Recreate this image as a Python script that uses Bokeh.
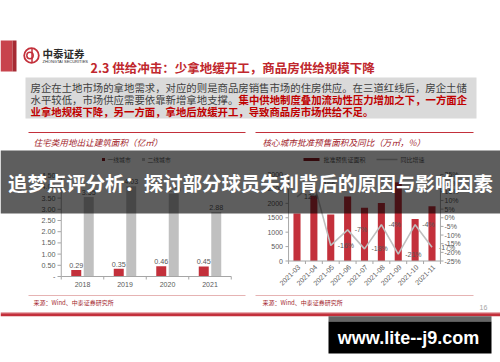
from bokeh.plotting import figure
from bokeh.models import Range1d, ColumnDataSource
from bokeh.transform import dodge
from bokeh.core.properties import value
from bokeh.embed import file_html
from bokeh.resources import INLINE

# ---------------- data ----------------
years = ["2018", "2019", "2020", "2021"]
tier1 = [0.29, 0.35, 0.46, 0.45]
tier2 = [3.55, 4.03, 3.70, 2.88]
left_ticks = [0, 0.5, 1.0, 1.5, 2.0, 2.5, 3.0, 3.5, 4.0, 4.5]
left_tick_labels = ["-", "0.50", "1.00", "1.50", "2.00", "2.50", "3.00", "3.50", "4.00", "4.50"]

months = ["2021-03", "2021-04", "2021-05", "2021-06", "2021-07",
          "2021-08", "2021-09", "2021-10", "2021-11"]
area = [1650, 2260, 1610, 2240, 1850, 2010, 2730, 1460, 1900]
yoy = [12, 20, -16, -7, -18, -4, -21, -4, -17]
area_ticks = [0, 500, 1000, 1500, 2000, 2500, 3000]
area_tick_labels = ["0", "500", "1000", "1500", "2000", "2500", "3000"]
yoy_ticks = [-25, -20, -15, -10, -5, 0, 5, 10, 15, 20, 25]
yoy_tick_labels = ["-25%", "-20%", "-15%", "-10%", "-5%", "0%", "5%", "10%", "15%", "20%", "25%"]

title_text = "2.3 供给冲击：少拿地缓开工，商品房供给规模下降"
body_l1 = "房企在土地市场的拿地需求，对应的则是商品房销售市场的住房供应。在三道红线后，房企土储"
body_l2a = "水平较低，市场供应需要依靠新增拿地支撑。"
body_l2b = "集中供地制度叠加流动性压力增加之下，一方面企"
body_l3 = "业拿地规模下降，另一方面，拿地后放缓开工，导致商品房市场供给不足。"
left_title = "住宅类用地出让建筑面积（亿㎡）"
right_title = "核心城市批准预售面积及同比（万㎡，%）"
legend_left = ["一线城市", "二线城市"]
legend_right = ["批准预售证面积", "同比增速"]
source_text = "来源：Wind、中泰证券研究所"
banner_text = "追梦点评分析：探讨部分球员失利背后的原因与影响因素"
url_text = "www.lite--j9.com"

# ---------------- style ----------------
W, H = 500, 362
RED = "#c3303b"
DARKRED = "#a3262d"
GREY_BAR = "#c0c0c0"
LINE_GREY = "#bfbfbf"
AX = "#595959"
CJK = value("Noto Sans CJK SC")
LAT = value("Liberation Sans")


def xr(v0, px0, v1, px1):
    k = (v1 - v0) / (px1 - px0)
    return Range1d(v0 + (0 - px0) * k, v0 + (W - px0) * k)


def yr(v0, px0, v1, px1):
    k = (v1 - v0) / (px1 - px0)
    return Range1d(v0 + (H - px0) * k, v0 + (0 - px0) * k)


p = figure(width=W, height=H, x_range=Range1d(0, W), y_range=Range1d(H, 0),
           x_axis_type=None, y_axis_type=None, output_backend="svg",
           toolbar_location=None, min_border=0)
p.grid.visible = False
p.outline_line_color = None
p.background_fill_color = "white"
p.border_fill_color = "white"

# ---------------- header ----------------
p.quad(left=[0], right=[12], top=[40], bottom=[71], fill_color="#c8434c", line_alpha=0)
p.quad(left=[12], right=[16], top=[40], bottom=[71], fill_color="#a52a33", line_alpha=0)
p.circle(x=[31], y=[55], radius=7.3, fill_color=None, line_color=RED, line_width=1.8)
p.circle(x=[29.5], y=[55], radius=3.2, fill_color=None, line_color=RED, line_width=1.5)
p.segment(x0=[31.5], y0=[48.5], x1=[31.5], y1=[61.5], line_color=RED, line_width=1.5)
p.text(x=[42], y=[53], text=["中泰证券"], text_font=CJK, text_font_size="10.5px",
       text_font_style="bold", text_color="#2b2b2b", text_baseline="middle")
p.text(x=[42], y=[61], text=["ZHONGTAI SECURITIES"], text_font=LAT, text_font_size="4px",
       text_color="#2b2b2b", text_baseline="middle")
p.text(x=[90], y=[66.5], text=[title_text], text_font=CJK, text_font_size="12.5px",
       text_font_style="bold", text_color="#c0272d", text_baseline="middle")

p.quad(left=[25], right=[476], top=[77], bottom=[118], fill_color="#dadada", line_alpha=0)
p.text(x=[30], y=[87.3], text=[body_l1], text_font=CJK, text_font_size="10.4px",
       text_color="#404040", text_baseline="middle")
p.text(x=[30], y=[99.3], text=[body_l2a], text_font=CJK, text_font_size="10.4px",
       text_color="#404040", text_baseline="middle")
p.text(x=[238], y=[99.3], text=[body_l2b], text_font=CJK, text_font_size="10.4px",
       text_font_style="bold", text_color="#c00000", text_baseline="middle")
p.text(x=[30], y=[111], text=[body_l3], text_font=CJK, text_font_size="10.4px",
       text_font_style="bold", text_color="#c00000", text_baseline="middle")

# panel titles / rules
p.segment(x0=[28, 255], y0=[132, 132], x1=[245, 473], y1=[132, 132], line_color=RED, line_width=1)
p.text(x=[33, 262], y=[141, 141], text=[left_title, right_title], text_font=CJK,
       text_font_size="8.6px", text_font_style="italic", text_color=DARKRED,
       text_baseline="middle")
p.segment(x0=[28, 255], y0=[295, 295], x1=[245, 473], y1=[295, 295], line_color="#e6b3b3", line_width=1)
p.text(x=[33, 262], y=[302, 302], text=[source_text, source_text], text_font=CJK,
       text_font_size="6px", text_color=DARKRED, text_baseline="middle")

# ---------------- left chart ----------------
p.extra_x_ranges["lx"] = xr(0, 82, 1, 124.5)
p.extra_y_ranges["ly"] = yr(0, 276, 4.5, 175.2)
lsrc = ColumnDataSource(dict(i=list(range(len(years))), year=years, t1=tier1, t2=tier2,
                             t1l=[f"{v:.2f}" for v in tier1], t2l=[f"{v:.2f}" for v in tier2]))
p.vbar(x=dodge("i", -0.147), top="t1", bottom=0, width=0.235, source=lsrc,
       x_range_name="lx", y_range_name="ly", fill_color=RED, line_alpha=0)
p.vbar(x=dodge("i", 0.147), top="t2", bottom=0, width=0.235, source=lsrc,
       x_range_name="lx", y_range_name="ly", fill_color=GREY_BAR, line_alpha=0)
p.text(x=dodge("i", -0.147), y="t1", text="t1l", source=lsrc, x_range_name="lx",
       y_range_name="ly", text_font=LAT, text_font_size="7.2px", text_color=AX,
       text_align="center", text_baseline="bottom", y_offset=-2)
p.text(x=dodge("i", 0.147), y="t2", text="t2l", source=lsrc, x_range_name="lx",
       y_range_name="ly", text_font=LAT, text_font_size="7.2px", text_color=AX,
       text_align="center", text_baseline="bottom", y_offset=-2)
# axes
nL = len(years)
p.segment(x0=[-0.5], y0=[0], x1=[-0.5], y1=[left_ticks[-1]], x_range_name="lx",
          y_range_name="ly", line_color="#a6a6a6", line_width=1)
p.segment(x0=[-0.5], y0=[0], x1=[nL - 0.5], y1=[0], x_range_name="lx",
          y_range_name="ly", line_color="#a6a6a6", line_width=1)
p.segment(x0=[57] * len(left_ticks), y0=left_ticks, x1=[60.5] * len(left_ticks), y1=left_ticks,
          y_range_name="ly", line_color="#a6a6a6", line_width=1)
p.segment(x0=[i - 0.5 for i in range(nL + 1)], y0=[276] * (nL + 1),
          x1=[i - 0.5 for i in range(nL + 1)], y1=[279] * (nL + 1),
          x_range_name="lx", line_color="#a6a6a6", line_width=1)
p.text(x=[55] * len(left_ticks), y=left_ticks, text=left_tick_labels, y_range_name="ly",
       text_font=LAT, text_font_size="7.2px", text_color=AX, text_align="right",
       text_baseline="middle")
p.text(x=list(range(nL)), y=[284] * nL, text=years, x_range_name="lx",
       text_font=LAT, text_font_size="7px", text_color=AX, text_align="center",
       text_baseline="middle")
# legend
p.quad(left=[101.5], right=[104.5], top=[157.5], bottom=[160.5], fill_color="#8b1a22", line_alpha=0)
p.quad(left=[141.5], right=[144.5], top=[157.5], bottom=[160.5], fill_color=GREY_BAR, line_alpha=0)
p.text(x=[107, 147], y=[159, 159], text=legend_left, text_font=CJK, text_font_size="5.8px",
       text_color=AX, text_baseline="middle")

# ---------------- right chart ----------------
p.extra_x_ranges["rx"] = xr(0, 296.5, 8, 431.5)
p.extra_y_ranges["ry"] = yr(0, 260.5, 3000, 174)
p.extra_y_ranges["ry2"] = yr(-25, 260.5, 25, 174)
rsrc = ColumnDataSource(dict(i=list(range(len(months))), m=months, area=area, yoy=yoy,
                             yl=[f"{v}%" for v in yoy]))
p.vbar(x="i", top="area", bottom=0, width=0.42, source=rsrc, x_range_name="rx",
       y_range_name="ry", fill_color=RED, line_alpha=0)
p.line(x="i", y="yoy", source=rsrc, x_range_name="rx", y_range_name="ry2",
       line_color=LINE_GREY, line_width=1.6)
p.text(x="i", y="yoy", text="yl", source=rsrc, x_range_name="rx", y_range_name="ry2",
       x_offset=7, text_font=LAT, text_font_size="7px", text_color=AX,
       text_align="left", text_baseline="middle")
nR = len(months)
p.segment(x0=[-0.5, nR - 0.5], y0=[0, 0], x1=[-0.5, nR - 0.5], y1=[3000, 3000],
          x_range_name="rx", y_range_name="ry", line_color="#a6a6a6", line_width=1)
p.segment(x0=[-0.5], y0=[0], x1=[nR - 0.5], y1=[0], x_range_name="rx",
          y_range_name="ry", line_color="#a6a6a6", line_width=1)
p.segment(x0=[285] * len(area_ticks), y0=area_ticks, x1=[288] * len(area_ticks), y1=area_ticks,
          y_range_name="ry", line_color="#a6a6a6", line_width=1)
p.segment(x0=[440] * len(yoy_ticks), y0=yoy_ticks, x1=[443] * len(yoy_ticks), y1=yoy_ticks,
          y_range_name="ry2", line_color="#a6a6a6", line_width=1)
p.segment(x0=[i - 0.5 for i in range(nR + 1)], y0=[260.5] * (nR + 1),
          x1=[i - 0.5 for i in range(nR + 1)], y1=[263.5] * (nR + 1),
          x_range_name="rx", line_color="#a6a6a6", line_width=1)
p.text(x=[282.5] * len(area_ticks), y=area_ticks, text=area_tick_labels, y_range_name="ry",
       text_font=LAT, text_font_size="7px", text_color=AX, text_align="right",
       text_baseline="middle")
p.text(x=[444] * len(yoy_ticks), y=yoy_ticks, text=yoy_tick_labels, y_range_name="ry2",
       text_font=LAT, text_font_size="7px", text_color=AX, text_align="left",
       text_baseline="middle")
p.text(x=list(range(nR)), y=[265.5] * nR, text=months, x_range_name="rx", x_offset=2,
       angle=0.785398, text_font=LAT, text_font_size="7px", text_color=AX,
       text_align="right", text_baseline="middle")
# legend
p.quad(left=[303], right=[319], top=[157.5], bottom=[160.5], fill_color="#8b1a22", line_alpha=0)
p.segment(x0=[376], y0=[159], x1=[397], y1=[159], line_color=LINE_GREY, line_width=1.5)
p.text(x=[323, 400], y=[159, 159], text=legend_right, text_font=CJK, text_font_size="6px",
       text_color=AX, text_baseline="middle")

# ---------------- footer ----------------
p.segment(x0=[0], y0=[312.2], x1=[W], y1=[312.2], line_color="#e39a9f", line_width=1)
p.segment(x0=[0], y0=[314.3], x1=[W], y1=[314.3], line_color=RED, line_width=3)
p.text(x=[483], y=[307], text=["16"], text_font=LAT, text_font_size="7px",
       text_color="#a6a6a6", text_align="center", text_baseline="middle")

# ---------------- overlays ----------------
p.quad(left=[0], right=[W], top=[150], bottom=[213], fill_color="black", fill_alpha=0.63, line_alpha=0)
p.text(x=[250], y=[181.5], text=[banner_text], text_font=CJK, text_font_size="19.4px",
       text_font_style="bold", text_color="white", text_align="center", text_baseline="middle")

p.quad(left=[328], right=[491], top=[315.8], bottom=[321], fill_color="#666666", line_alpha=0)
p.quad(left=[328], right=[491], top=[321], bottom=[353], fill_color="black", line_alpha=0)
p.text(x=[408], y=[337], text=[url_text], text_font=LAT, text_font_size="18px",
       text_font_style="bold", text_color="white", text_align="center", text_baseline="middle")

open("out.html", "w").write(file_html(p, INLINE))
